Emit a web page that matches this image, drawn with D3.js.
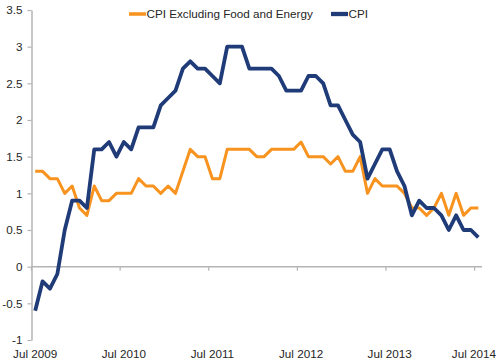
<!DOCTYPE html>
<html><head><meta charset="utf-8">
<script src="https://cdn.jsdelivr.net/npm/d3@7"></script>
<style>
body{margin:0;background:#fff}
svg{display:block}
text{font-family:"Liberation Sans",Arial,sans-serif;fill:#262626}
</style>
</head><body>
<svg id="chart" width="500" height="364"></svg>
<script>
// ---- data ----
const months = d3.timeMonth.range(new Date(2009, 6, 1), new Date(2014, 7, 1)); // Jul 2009 .. Jul 2014 (61 months)
const seriesNames = ["CPI Excluding Food and Energy", "CPI"];
const coreCPI = [1.3,1.3,1.2,1.2,1.0,1.1,0.8,0.7,1.1,0.9,
                 0.9,1.0,1.0,1.0,1.2,1.1,1.1,1.0,1.1,1.0,
                 1.3,1.6,1.5,1.5,1.2,1.2,1.6,1.6,1.6,1.6,
                 1.5,1.5,1.6,1.6,1.6,1.6,1.7,1.5,1.5,1.5,
                 1.4,1.5,1.3,1.3,1.5,1.0,1.2,1.1,1.1,1.1,
                 1.0,0.8,0.8,0.7,0.8,1.0,0.7,1.0,0.7,0.8,0.8];
const cpi = [-0.6,-0.2,-0.3,-0.1,0.5,0.9,0.9,0.8,1.6,1.6,
             1.7,1.5,1.7,1.6,1.9,1.9,1.9,2.2,2.3,2.4,
             2.7,2.8,2.7,2.7,2.6,2.5,3.0,3.0,3.0,2.7,
             2.7,2.7,2.7,2.6,2.4,2.4,2.4,2.6,2.6,2.5,
             2.2,2.2,2.0,1.8,1.7,1.2,1.4,1.6,1.6,1.3,
             1.1,0.7,0.9,0.8,0.8,0.7,0.5,0.7,0.5,0.5,0.4];
const yTicks = [-1,-0.5,0,0.5,1,1.5,2,2.5,3,3.5];
const xTickLabels = ["Jul 2009","Jul 2010","Jul 2011","Jul 2012","Jul 2013","Jul 2014"];
const colors = ["#F7931E", "#1F3B78"];

// ---- layout ----
const svg = d3.select("#chart");
const plotLeft = 31.5, plotRight = 482, plotTop = 10, plotBottom = 340;
const fmtKey = d3.timeFormat("%Y-%m");
const x = d3.scaleBand().domain(months.map(fmtKey)).range([plotLeft, plotRight]).paddingInner(0).paddingOuter(0);
const y = d3.scaleLinear().domain([-1, 3.5]).range([plotBottom, plotTop]);
const axisColor = "#b4b4b4";
const fontSize = "11.7px";

// Y axis
const yAxis = d3.axisLeft(y).tickValues(yTicks).tickSize(4).tickSizeOuter(0).tickPadding(5)
  .tickFormat(d => String(d));
const gy = svg.append("g").attr("transform", `translate(${plotLeft},0)`).call(yAxis);
gy.select(".domain").attr("stroke", axisColor).attr("stroke-width", 1.5);
gy.selectAll(".tick line").attr("stroke", axisColor).attr("stroke-width", 1.2);
gy.selectAll(".tick text").attr("font-size", fontSize).attr("fill", "#262626")
  .style("font-family", '"Liberation Sans",Arial,sans-serif');

// X axis line at zero
const y0 = y(0);
svg.append("line").attr("x1", plotLeft).attr("x2", plotRight).attr("y1", y0).attr("y2", y0)
  .attr("stroke", axisColor).attr("stroke-width", 1.5);

// X ticks at July band edges
const fmtLabel = d3.timeFormat("%b %Y");
const julyKeys = months.filter(d => d.getMonth() === 6).map(fmtKey);
svg.selectAll("line.xt").data(julyKeys).join("line").attr("class", "xt")
  .attr("x1", d => x(d)).attr("x2", d => x(d))
  .attr("y1", y0).attr("y2", y0 + 4)
  .attr("stroke", axisColor).attr("stroke-width", 1.2);

svg.selectAll("text.xl").data(julyKeys).join("text").attr("class", "xl")
  .attr("x", (d, i) => i === julyKeys.length - 1 ? 496 : x(d) + x.bandwidth() / 2)
  .attr("text-anchor", (d, i) => i === julyKeys.length - 1 ? "end" : "middle")
  .attr("y", 358)
  .attr("font-size", fontSize)
  .text((d, i) => xTickLabels[i]);

// Lines
const line = d3.line().x((d, i) => x(fmtKey(months[i])) + x.bandwidth() / 2).y(d => y(d));
const series = [coreCPI, cpi];
const widths = [3, 3.8];
series.forEach((s, k) => {
  svg.append("path").datum(s).attr("d", line)
    .attr("fill", "none").attr("stroke", colors[k]).attr("stroke-width", widths[k])
    .attr("stroke-linejoin", "round").attr("stroke-linecap", "butt");
});

// Legend
const legendItems = [{x: 129, name: seriesNames[0]}, {x: 331, name: seriesNames[1]}];
legendItems.forEach((it, k) => {
  svg.append("line").attr("x1", it.x).attr("x2", it.x + 17).attr("y1", 14).attr("y2", 14)
    .attr("stroke", colors[k]).attr("stroke-width", widths[k] + 0.5);
  svg.append("text").attr("x", it.x + 17.5).attr("y", 18).attr("font-size", fontSize).text(it.name);
});
</script>
</body></html>
